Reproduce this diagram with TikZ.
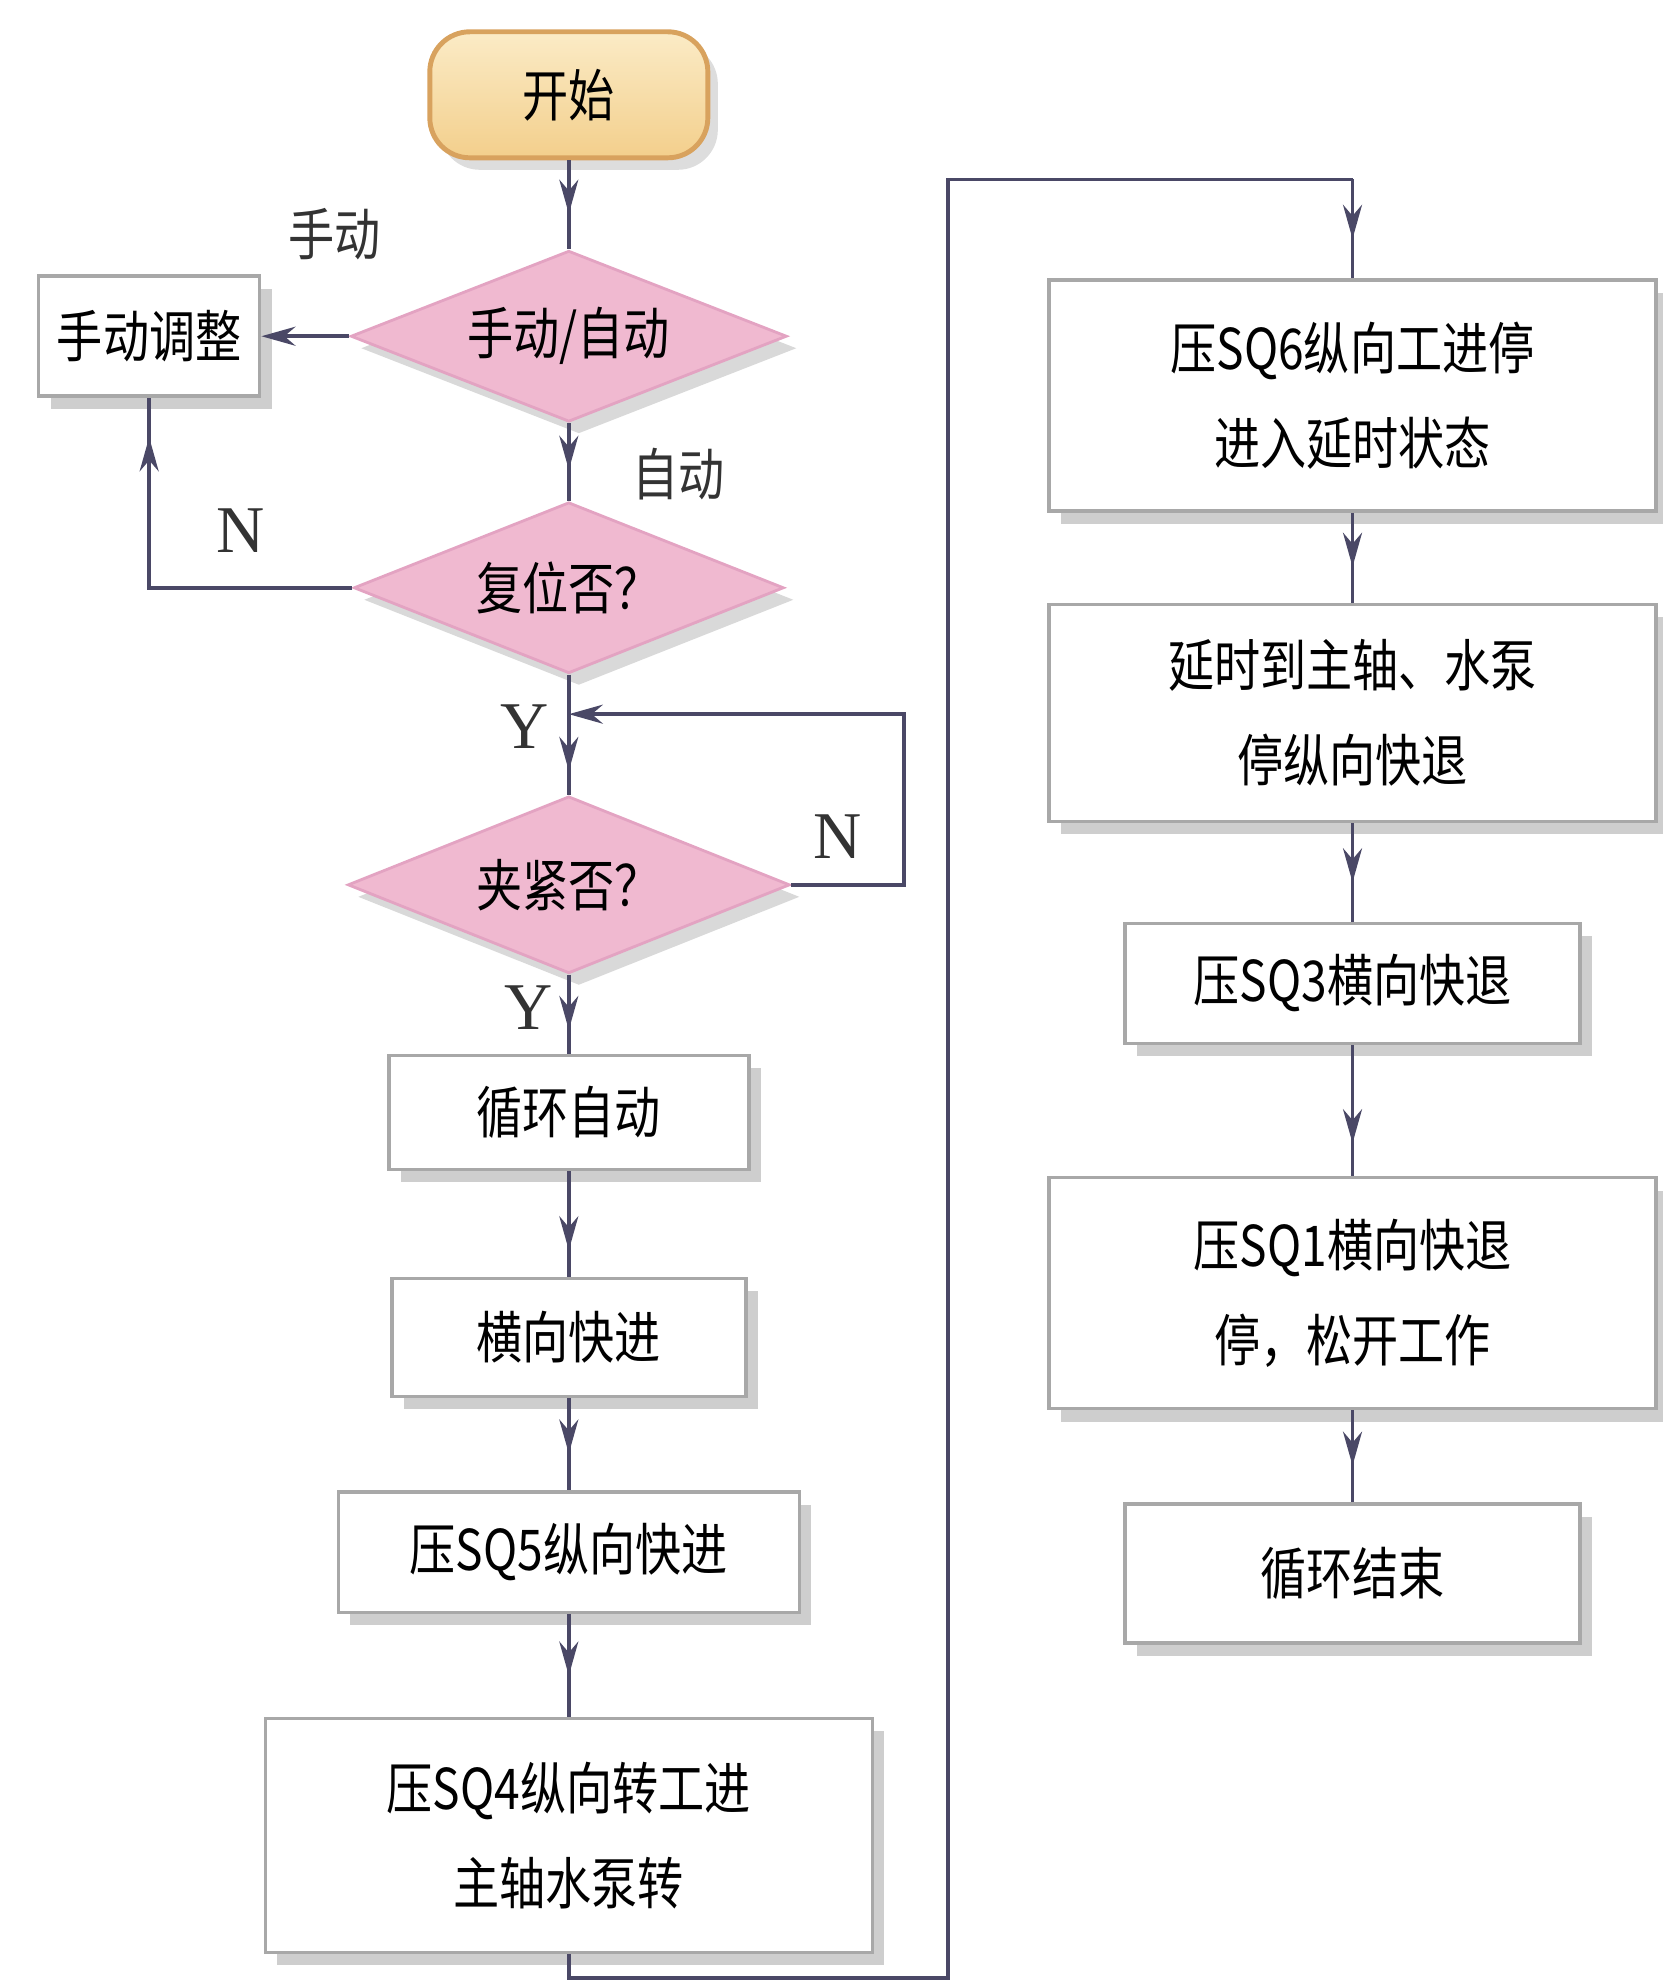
\documentclass[tikz,border=0pt]{standalone}
\usepackage{fontspec}
\setmainfont{Noto Sans CJK SC}[FakeStretch=0.82]
\newfontfamily\lat{Liberation Serif}
\usetikzlibrary{shapes.geometric, arrows.meta, shadows, decorations.markings}
\definecolor{linec}{HTML}{4A4866}
\definecolor{boxb}{HTML}{A8A8A8}
\definecolor{pinkf}{HTML}{F0B9D0}
\definecolor{pinkb}{HTML}{E3A3C2}
\definecolor{startt}{HTML}{FBEBC6}
\definecolor{startbot}{HTML}{F3CF8C}
\definecolor{startb}{HTML}{D8A25E}
\tikzset{
  proc/.style={rectangle, draw=boxb, line width=1pt, fill=white,
    drop shadow={shadow xshift=1.2mm, shadow yshift=-1.3mm, fill=gray!55, opacity=0.7},
    align=center, font=\fontsize{16}{27}\selectfont, inner sep=0pt},
  decis/.style={diamond, draw=pinkb, line width=0.8pt, fill=pinkf, aspect=2.6,
    drop shadow={shadow xshift=1.0mm, shadow yshift=-1.2mm, fill=gray!50, opacity=0.6},
    align=center, font=\fontsize{16}{20}\selectfont, inner sep=0pt},
  startn/.style={rectangle, rounded corners=4mm, draw=startb, line width=1.4pt,
    top color=startt, bottom color=startbot,
    drop shadow={shadow xshift=1.0mm, shadow yshift=-1.2mm, fill=gray!45, opacity=0.6},
    font=\fontsize{16}{20}\selectfont, inner sep=0pt},
  lbl/.style={font=\fontsize{16}{20}\selectfont, text=black!80},
  yn/.style={font=\lat\fontsize{19}{20}\selectfont, text=black!80},
  flow/.style={draw=linec, line width=1.1pt},
  marr/.style={postaction={decorate}, decoration={markings,
    mark=at position #1 with {\arrow{Stealth[length=3.4mm,width=1.9mm]}}}},
  endarr/.style={-{Stealth[length=3.4mm,width=1.9mm]}}
}
\begin{document}
\begin{tikzpicture}[x=0.12639mm, y=-0.12639mm]
\useasboundingbox (0,0) rectangle (1315,1568);
% left column
\node[startn, minimum width=27.8mm, minimum height=12.6mm] (start) at (450,75) {开始};
\node[decis, minimum width=43.6mm, minimum height=17.1mm] (d1) at (450,266) {手动/自动};
\node[proc, minimum width=22.1mm, minimum height=12mm] (man) at (118,266) {手动调整};
\node[decis, minimum width=43.0mm, minimum height=17.1mm] (d2) at (450,465) {复位否？};
\node[decis, minimum width=44.2mm, minimum height=17.7mm] (d3) at (450,700) {夹紧否？};
\node[proc, minimum width=36.0mm, minimum height=11.4mm] (b1) at (450,880) {循环自动};
\node[proc, minimum width=35.4mm, minimum height=11.8mm] (b2) at (450,1058) {横向快进};
\node[proc, minimum width=46.1mm, minimum height=12.0mm] (b3) at (450,1228) {压SQ5纵向快进};
\node[proc, minimum width=60.7mm, minimum height=23.4mm] (b4) at (450,1452) {压SQ4纵向转工进\\主轴水泵转};
% right column
\node[proc, minimum width=60.7mm, minimum height=23.1mm] (r1) at (1070,313) {压SQ6纵向工进停\\进入延时状态};
\node[proc, minimum width=60.7mm, minimum height=21.7mm] (r2) at (1070,564) {延时到主轴、水泵\\停纵向快退};
\node[proc, minimum width=45.5mm, minimum height=12.0mm] (r3) at (1070,778) {压SQ3横向快退};
\node[proc, minimum width=60.7mm, minimum height=23.1mm] (r4) at (1070,1023) {压SQ1横向快退\\停，松开工作};
\node[proc, minimum width=45.5mm, minimum height=13.9mm] (r5) at (1070,1245) {循环结束};
% labels
\node[lbl] (lman) at (265,185) {手动};
\node[lbl] (lauto) at (537,375) {自动};
\node[yn] (n1) at (190,420) {N};
\node[yn] (y1) at (415,575) {Y};
\node[yn] (n2) at (663,662) {N};
\node[yn] (y2) at (418,797) {Y};
% helper coordinates
\coordinate (j1) at (450,565);
\coordinate (c3) at (715,700);
\coordinate (lb) at (450,1565);
\coordinate (lbr) at (750,1565);
\coordinate (lt) at (750,142);
\coordinate (rt) at (1070,142);
% connectors
\draw[flow, marr=0.6] (start) -- (d1);
\draw[flow, endarr] (d1) -- (man);
\draw[flow, marr=0.6] (d1) -- (d2);
\draw[flow, marr=0.9] (d2.west) -| (man.south);
\draw[flow, marr=0.8] (d2) -- (d3);
\draw[flow, endarr] (d3.east) -- (c3) |- (j1);
\draw[flow, marr=0.7] (d3) -- (b1);
\draw[flow, marr=0.75] (b1) -- (b2);
\draw[flow, marr=0.6] (b2) -- (b3);
\draw[flow, marr=0.6] (b3) -- (b4);
\draw[flow] (b4.south) -- (lb) -- (lbr) -- (lt) -- (rt);
\draw[flow, marr=0.6] (rt) -- (r1);
\draw[flow, marr=0.6] (r1) -- (r2);
\draw[flow, marr=0.6] (r2) -- (r3);
\draw[flow, marr=0.75] (r3) -- (r4);
\draw[flow, marr=0.6] (r4) -- (r5);
\end{tikzpicture}
\end{document}
